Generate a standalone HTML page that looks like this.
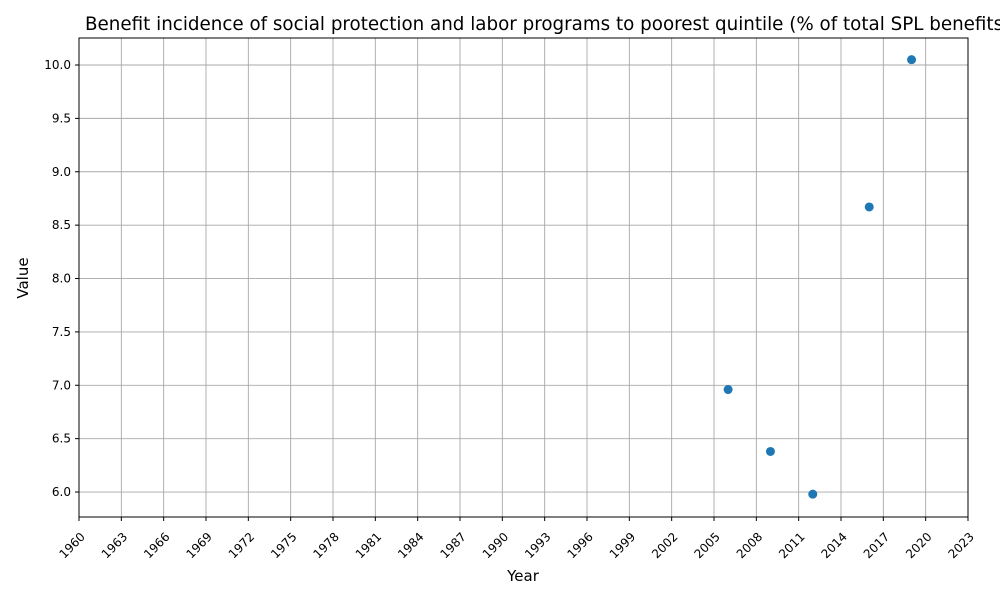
<!DOCTYPE html>
<html><head><meta charset="utf-8"><style>
body{margin:0;background:#fff;font-family:"Liberation Sans","DejaVu Sans",sans-serif;}
svg text{font-family:"DejaVu Sans","Liberation Sans",sans-serif;}
</style></head><body>
<svg id="chart" width="1000" height="600" xmlns="http://www.w3.org/2000/svg">
<rect width="1000" height="600" fill="#fff"/>
<g id="grid"></g>
<g id="ticks"></g>
<g id="points"></g>
<rect x="79" y="38" width="889" height="479" fill="none" stroke="#000" stroke-width="1"/>
<text x="85" y="30" font-size="18.3" text-anchor="start">Benefit incidence of social protection and labor programs to poorest quintile (% of total SPL benefits)</text>
<text x="523" y="581" font-size="15" text-anchor="middle">Year</text>
<text x="28" y="278" font-size="15" text-anchor="middle" transform="rotate(-90 28 278)">Value</text>
</svg>
<script>
const years=[2006,2009,2012,2016,2019];
const values=[6.96,6.38,5.98,8.67,10.05];
const xTicks=[1960,1963,1966,1969,1972,1975,1978,1981,1984,1987,1990,1993,1996,1999,2002,2005,2008,2011,2014,2017,2020,2023];
const yTicks=[6.0,6.5,7.0,7.5,8.0,8.5,9.0,9.5,10.0];
const L=79,R=968,T=38,B=517;
const xMin=1960,xMax=2023,yMin=5.766,yMax=10.253;
const xs=v=>L+(v-xMin)/(xMax-xMin)*(R-L);
const ys=v=>B-(v-yMin)/(yMax-yMin)*(B-T);
const NS="http://www.w3.org/2000/svg";
const grid=document.getElementById('grid'),ticks=document.getElementById('ticks'),pts=document.getElementById('points');
function mk(tag,attrs,parent){const e=document.createElementNS(NS,tag);for(const k in attrs)e.setAttribute(k,attrs[k]);parent.appendChild(e);return e;}
xTicks.forEach(t=>{const x=xs(t);
 const g=mk('line',{x1:x,x2:x,y1:T,y2:B,stroke:'#a8a8a8','stroke-width':0.9},grid);
 
 
 mk('line',{x1:x,x2:x,y1:B,y2:B+4,stroke:'#000'},ticks);
 const tx=mk('text',{x:x,y:B+20,'font-size':12,'text-anchor':'end',transform:`rotate(-45 ${x+4} ${B+12})`},ticks);
 tx.textContent=t;
 
 
});
yTicks.forEach(t=>{const y=ys(t);
 const g=mk('line',{x1:L,x2:R,y1:y,y2:y,stroke:'#a8a8a8','stroke-width':0.9},grid);
 
 
 mk('line',{x1:L-4,x2:L,y1:y,y2:y,stroke:'#000'},ticks);
 const tx=mk('text',{x:L-8,y:y+4,'font-size':12,'text-anchor':'end'},ticks);
 tx.textContent=t.toFixed(1);
 
 
});
years.forEach((yr,i)=>{
 const c=mk('circle',{cx:xs(yr),cy:ys(values[i]),r:4.5,fill:'#1f77b4'},pts);
 
 
});
</script>
</body></html>
